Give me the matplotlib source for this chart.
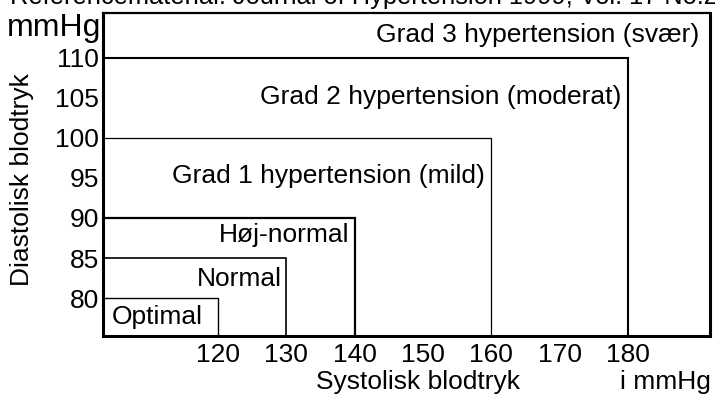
import matplotlib.pyplot as plt

plt.rcParams['font.family'] = ['Liberation Sans', 'DejaVu Sans']

# blood pressure categories (upper limits of each zone)
categories = ['Optimal', 'Normal', 'Høj-normal', 'Grad 1 hypertension (mild)',
              'Grad 2 hypertension (moderat)', 'Grad 3 hypertension (svær)']
systolic = [120, 130, 140, 160, 180]
diastolic = [80, 85, 90, 100, 110]
xticks = [120, 130, 140, 150, 160, 170, 180]
yticks = [80, 85, 90, 95, 100, 105, 110]

# label positions (right edge, vertical centre) in mmHg
label_x = [117.8, 129.3, 139.3, 159.1, 179.1, 190.5]
label_y = [77.6, 82.4, 87.9, 95.25, 105.1, 112.9]

fs = 19

fig = plt.figure(figsize=(7.15, 3.94), dpi=100)
ax = fig.add_axes([0.144, 0.147, 0.849, 0.820])
x0, x1 = 103.2, 192.0
y0, y1 = 75.25, 115.6
ax.set_xlim(x0, x1)
ax.set_ylim(y0, y1)

widths = [1.0, 1.2, 1.6, 0.9, 1.5]
for s, d, lw in zip(systolic, diastolic, widths):
    ax.plot([x0, s, s], [d, d, y0], color='black', lw=lw, solid_joinstyle='miter')

for name, lx, ly in zip(categories, label_x, label_y):
    ax.text(lx, ly, name, ha='right', va='center', fontsize=fs)

ax.set_xticks(xticks)
ax.set_yticks(yticks)
ax.tick_params(length=0, labelsize=fs)
ax.tick_params(axis='x', pad=5)
ax.tick_params(axis='y', pad=3)
for sp in ax.spines.values():
    sp.set_linewidth(2.2)
ax.spines['top'].set_linewidth(1.6)

fig.text(10 / 715, 1.0 - 4 / 394, 'Referencematerial: Journal of Hypertension 1999, Vol. 17 No.2',
         ha='left', va='baseline', fontsize=18.3)
fig.text(7 / 715, 1 - 28 / 394, 'mmHg', ha='left', va='center', fontsize=23)
fig.text(22 / 715, 1 - 180 / 394, 'Diastolisk blodtryk', rotation=90,
         ha='center', va='center', fontsize=fs)
fig.text(418 / 715, 1 - 389 / 394, 'Systolisk blodtryk', ha='center', va='baseline', fontsize=fs)
fig.text(711 / 715, 1 - 389 / 394, 'i mmHg', ha='right', va='baseline', fontsize=fs)

fig.savefig('out.png', dpi=100)
